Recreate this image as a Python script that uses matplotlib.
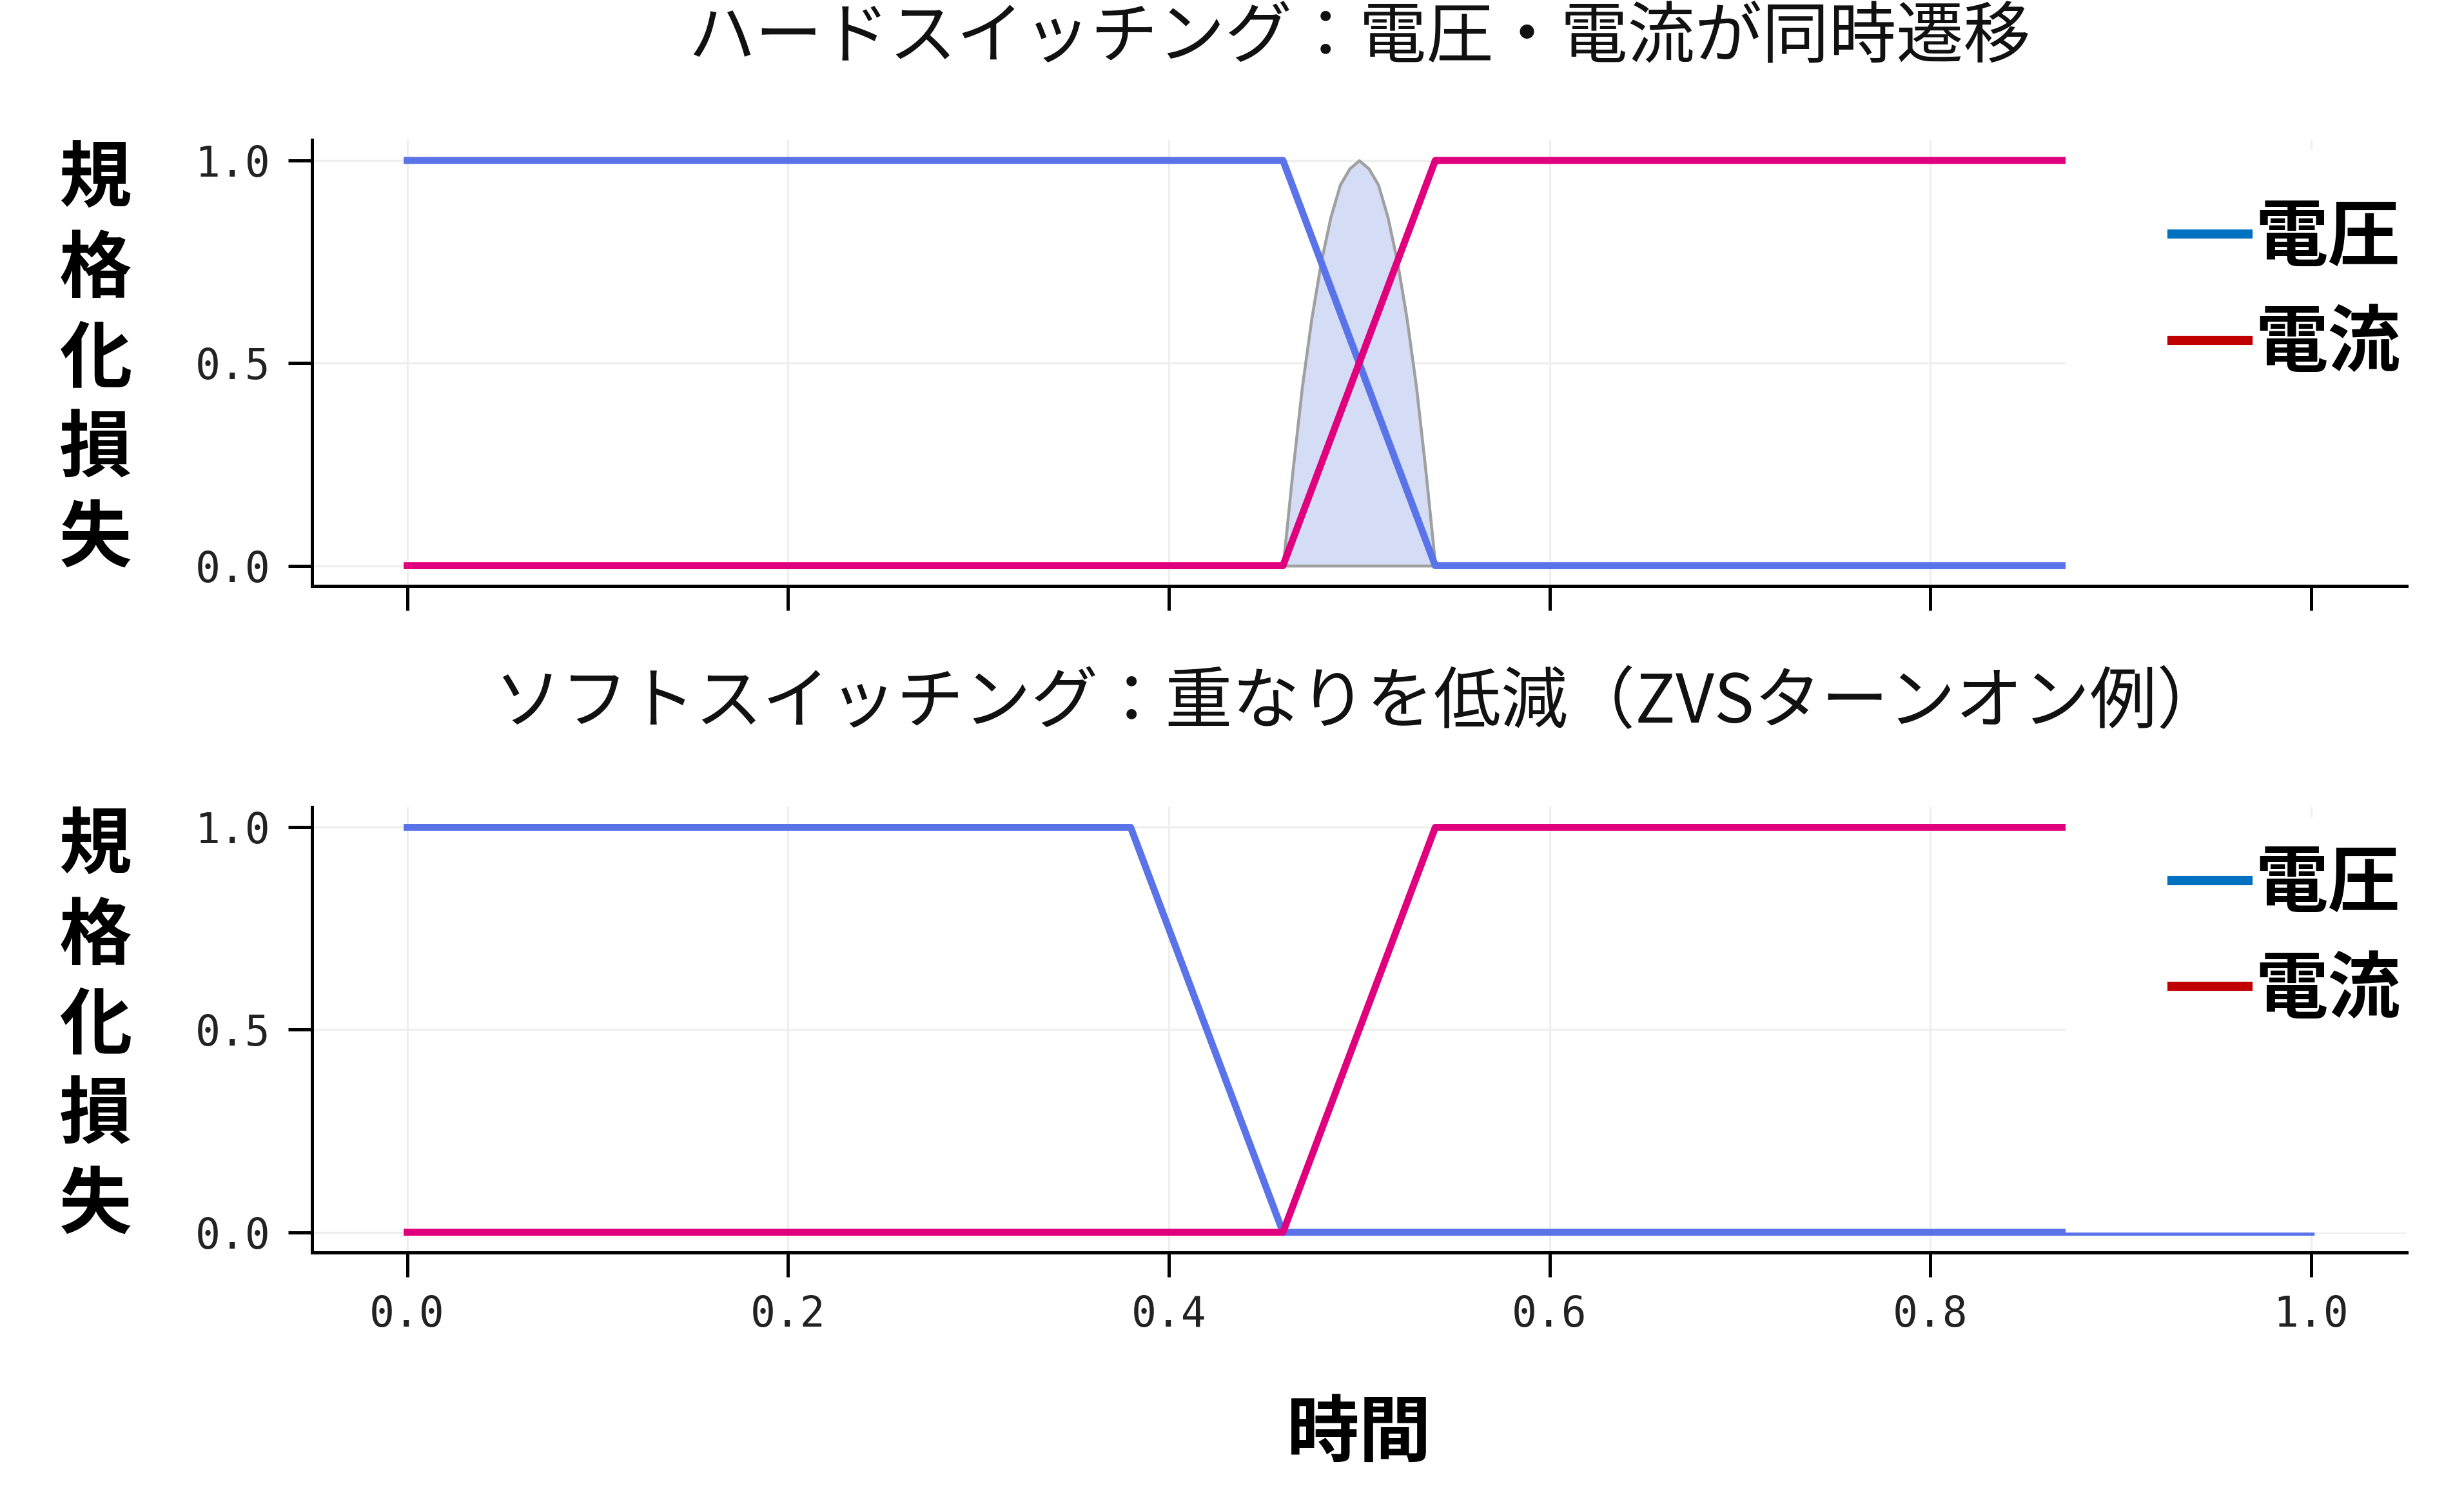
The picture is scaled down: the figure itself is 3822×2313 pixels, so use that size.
import matplotlib
matplotlib.use('Agg')
import matplotlib.pyplot as plt
from matplotlib.lines import Line2D
from matplotlib.patches import Rectangle

plt.rcParams['font.family'] = ['Noto Sans CJK JP', 'DejaVu Sans']

# hard switching waveforms
hard_t = [0.0, 0.46, 0.54, 1.0]
hard_v = [1.0, 1.0, 0.0, 0.0]
hard_i = [0.0, 0.0, 1.0, 1.0]

# overlap loss bump
loss_t = [0.46, 0.465, 0.47, 0.475, 0.48, 0.485, 0.49, 0.495, 0.50,
          0.505, 0.51, 0.515, 0.52, 0.525, 0.53, 0.535, 0.54]
loss_p = [0.0, 0.23, 0.44, 0.61, 0.75, 0.86, 0.94, 0.98, 1.0,
          0.98, 0.94, 0.86, 0.75, 0.61, 0.44, 0.23, 0.0]

# soft switching (ZVS turn-on)
soft_vt = [0.0, 0.38, 0.46, 1.0]
soft_v = [1.0, 1.0, 0.0, 0.0]
soft_it = [0.0, 0.46, 0.54, 1.0]
soft_i = [0.0, 0.0, 1.0, 1.0]

titles = ['ハードスイッチング：電圧・電流が同時遷移',
          'ソフトスイッチング：重なりを低減（ZVSターンオン例）']
legend_labels = ['電圧', '電流']
xticks = [0.0, 0.2, 0.4, 0.6, 0.8, 1.0]
yticks = [0.0, 0.5, 1.0]

v_color = '#5b73e8'
i_color = '#e0007e'

fig = plt.figure(figsize=(12.74, 7.71), dpi=300)
ax1 = fig.add_axes([0.1266, 0.607, 0.850, 0.299])
ax2 = fig.add_axes([0.1266, 0.160, 0.850, 0.2987])

ax1.fill_between(loss_t, loss_p, 0, facecolor='#d5ddf6', edgecolor='#a0a0a0',
                 linewidth=1.1, zorder=1.5)
ax1.plot(hard_t, hard_v, color=v_color, lw=2.6, zorder=2)
ax1.plot(hard_t, hard_i, color=i_color, lw=2.6, zorder=2)

ax2.plot(soft_vt, soft_v, color=v_color, lw=2.6, zorder=2)
ax2.plot(soft_it, soft_i, color=i_color, lw=2.6, zorder=2)

handles = [Line2D([], [], color='#0070c0', lw=3.4),
           Line2D([], [], color='#c00000', lw=3.4)]

panels = [(ax1, titles[0], -0.045, 1.228, 0.862),
          (ax2, titles[1], 0.0, 1.232, 0.909)]
for ax, title, box_y0, title_y, leg_y in panels:
    ax.set_xlim(-0.05, 1.05)
    ax.set_ylim(-0.05, 1.05)
    ax.set_xticks(xticks)
    ax.set_yticks(yticks)
    ax.xaxis.set_major_formatter(matplotlib.ticker.FormatStrFormatter('%.1f'))
    ax.yaxis.set_major_formatter(matplotlib.ticker.FormatStrFormatter('%.1f'))
    ax.grid(True, color='#efefef', lw=0.8)
    ax.set_axisbelow(True)
    for s in ['top', 'right']:
        ax.spines[s].set_visible(False)
    for s in ['left', 'bottom']:
        ax.spines[s].set_linewidth(1.2)
    ax.tick_params(length=9, width=1.2, pad=6.5, labelsize=15.5,
                   labelcolor='#222222')
    for lab in ax.get_xticklabels() + ax.get_yticklabels():
        lab.set_family('DejaVu Sans Mono')
    ax.text(0.5, title_y, title, transform=ax.transAxes, ha='center',
            va='center', fontsize=25, color='#111111')
    ax.set_ylabel('\n'.join('規格化損失'), rotation=0, fontsize=27,
                  fontweight='bold', linespacing=1.28, va='center', ha='center')
    ax.yaxis.set_label_coords(-0.1034, 0.507)
    # white panel behind the legend
    ax.add_patch(Rectangle((0.871, box_y0), 0.2, 1.025 - box_y0,
                           facecolor='white', edgecolor='none', zorder=2.3))
    ax.legend(handles, legend_labels, loc='upper left',
              bbox_to_anchor=(0.888, leg_y), frameon=False,
              prop={'size': 27, 'weight': 'bold'}, handlelength=1.05,
              handletextpad=0.1, labelspacing=0.45, borderpad=0,
              borderaxespad=0)

ax1.tick_params(labelbottom=False)
ax2.set_xlabel('時間', fontsize=27, fontweight='bold', va='center')
ax2.xaxis.set_label_coords(0.5, -0.408)

fig.savefig('out.png', dpi=300, facecolor='white')
